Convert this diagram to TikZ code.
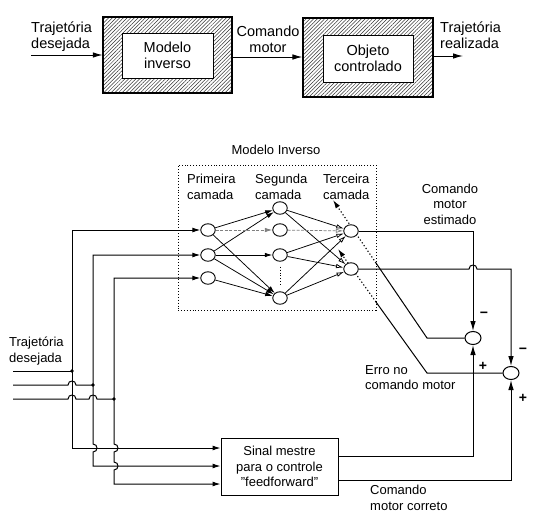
\documentclass[tikz,border=0pt]{standalone}
\usepackage{fontspec}
\setmainfont{Liberation Sans}
\usetikzlibrary{arrows.meta,shapes.geometric,patterns.meta,calc,backgrounds}
\begin{document}
\begin{tikzpicture}[x=1pt,y=-1pt,
  big/.style={font=\fontsize{14.5}{16}\selectfont, inner sep=0pt},
  sml/.style={font=\fontsize{13}{15.5}\selectfont, inner sep=0pt},
  wire/.style={line width=1pt},
  arr/.style={wire,-{Latex[length=10pt,width=5.5pt]}},
  sarr/.style={line width=0.75pt,-{Latex[length=7.5pt,width=4.5pt]}},
  darr/.style={wire,{Latex[length=8pt,width=5pt]}-{Latex[length=8pt,width=5pt]}},
  oarr/.style={line width=0.75pt,-{Latex[fill=white,length=7.5pt,width=4.5pt]}},
  faint/.style={gray,dash pattern=on 3pt off 1.5pt},
  neuron/.style={ellipse,draw,line width=0.9pt,fill=white,minimum width=14.5pt,minimum height=12.5pt,inner sep=0pt},
  sumnode/.style={ellipse,draw,line width=1pt,fill=white,minimum width=16pt,minimum height=13pt,inner sep=0pt},
  hatchbox/.style={draw,line width=1.1pt,pattern={Lines[angle=45,distance=2.6pt,line width=0.5pt]},pattern color=black!80,inner sep=0pt},
  innerbox/.style={draw,line width=0.6pt,fill=white,inner sep=0pt,align=center,font=\fontsize{14.5}{16}\selectfont},
  dotbox/.style={line width=0.9pt,dash pattern=on 0.9pt off 2pt},
  errdot/.style={line width=1.1pt,dash pattern=on 1.2pt off 2.2pt,-{Latex[length=8.5pt,width=5pt]}},
  jdot/.style={circle,fill,inner sep=0pt,minimum size=3.8pt},
  sign/.style={font=\fontsize{14}{16}\selectfont\bfseries, inner sep=0pt},
]
\useasboundingbox (0,0) rectangle (546,520);

% ---------- top block diagram ----------
\node[hatchbox,minimum width=129pt,minimum height=76pt] (mi) at (167.5,55) {};
\node[innerbox,minimum width=91pt,minimum height=45pt] (mit) at (167.5,55.5) {Modelo\\inverso};
\node[hatchbox,minimum width=130pt,minimum height=79pt] (oc) at (368,57.5) {};
\node[innerbox,minimum width=90pt,minimum height=47pt] (oct) at (368,58.5) {Objeto\\controlado};

\node[big,align=left,anchor=west] (td) at (31,37) {Trajetória\\desejada};
\node[big,align=center] (cm) at (268,39) {Comando\\motor};
\node[big,align=left,anchor=west] (tr) at (440,35) {Trajetória\\realizada};

\coordinate (a0) at (31,55);
\coordinate (a1) at (0,57);
\coordinate (a2) at (463,56);
\draw[arr] (a0) -- (a0 -| mi.west);
\draw[arr] (mi.east |- a1) -- (oc.west |- a1);
\draw[arr] (oc.east |- a2) -- (a2);

% ---------- network ----------
\node[sml] (mtitle) at (276,150) {Modelo Inverso};
\node[draw,dotbox,minimum width=198pt,minimum height=145pt] (nbox) at (277,237.5) {};
\node[sml,align=left,anchor=west] (l1) at (187,187) {Primeira\\camada};
\node[sml,align=left,anchor=west] (l2) at (255,187) {Segunda\\camada};
\node[sml,align=left,anchor=west] (l3) at (323,187) {Terceira\\camada};

\node[neuron] (n1a) at (208,230) {};
\node[neuron] (n1b) at (208,255) {};
\node[neuron] (n1c) at (208,278) {};
\node[neuron] (n2a) at (280,208) {};
\node[neuron] (n2b) at (280,230) {};
\node[neuron] (n2c) at (280,255) {};
\node[neuron] (n2d) at (280,298) {};
\node[neuron] (n3a) at (351,231) {};
\node[neuron] (n3b) at (351,269) {};

\begin{pgfonlayer}{background}
\draw[sarr] (n1a) -- (n2a);
\draw[sarr] (n1b) -- (n2a);
\draw[sarr,faint] (n1a) -- (n2b);
\draw[sarr] (n1a) -- (n2d);
\draw[sarr] (n1b) -- (n2c);
\draw[sarr] (n1b) -- (n2d);
\draw[sarr] (n1c) -- (n2d);
\draw[oarr] (n2a) -- (n3a);
\draw[oarr] (n2a) -- (n3b);
\draw[oarr,faint] (n2b) -- (n3a);
\draw[oarr] (n2c) -- (n3a);
\draw[oarr] (n2c) -- (n3b);
\draw[oarr] (n2d) -- (n3a);
\draw[oarr] (n2d) -- (n3b);
\end{pgfonlayer}
\draw[dotbox] ($(n2c.south)+(0,5)$) -- ($(n2d.north)+(0,-5)$);

% ---------- summing junctions ----------
\node[sumnode] (s1) at (473,338) {};
\node[sumnode] (s2) at (511,373) {};

\coordinate (o1) at (n3a.east -| s1);
\coordinate (o2) at (n3b.east -| s2);
\coordinate (h1) at (n3b.east -| s1);
\draw[arr] (n3a.east) -- (o1) -- (s1.north);
\draw[arr] (n3b.east) -- ($(h1)+(-4,0)$) .. controls +(0,-5.3) and +(0,-5.3) .. ($(h1)+(4,0)$) -- (o2) -- (s2.north);

\node[sign] (m1) at (484,315) {−};
\node[sign] (m2) at (523,351) {−};
\node[sign] (p1) at (483,366) {+};
\node[sign] (p2) at (523,398) {+};

% error lines
\coordinate (e1a) at (427,338);
\coordinate (e1b) at (376,263);
\coordinate (e1t) at (333,200);
\coordinate (e2a) at (427,373);
\coordinate (e2b) at (376,302);
\coordinate (e2t) at (338,249);
\draw[wire] (s1.west) -- (e1a) -- (e1b);
\draw[wire] (s2.west) -- (e2a) -- (e2b);
\begin{pgfonlayer}{background}
\draw[errdot] (e1b) -- (e1t);
\draw[errdot] (e2b) -- (e2t);
\end{pgfonlayer}

\node[sml,align=center] (cme) at (450,204) {Comando\\motor\\estimado};
\node[sml,align=left,anchor=north west] (erro) at (365,365) {Erro no\\comando motor};

% ---------- feedforward ----------
\node[draw,wire,sml,minimum width=117pt,minimum height=57pt,align=center] (ff) at (279.5,466.5) {Sinal mestre\\para o controle\\"feedforward"};
\coordinate (f1) at (0,456);
\coordinate (f2) at (0,480);
\draw[arr] (ff.east |- f1) -- (f1 -| s1) -- (s1.south);
\draw[arr] (ff.east |- f2) -- (f2 -| s2) -- (s2.south);
\node[sml,align=left,anchor=north west] (cmc) at (370,485) {Comando\\motor correto};

% ---------- left feed lines ----------
\node[sml,align=left,anchor=west] (td2) at (9,351) {Trajetória\\desejada};
\coordinate (v1t) at (72,230);
\coordinate (v1b) at (72,448);
\coordinate (v2t) at (93,255);
\coordinate (v2b) at (93,466);
\coordinate (v3t) at (114,278);
\coordinate (v3b) at (114,484);
\draw[darr] (n1a.west) -- (v1t) -- (v1b) -- (v1b -| ff.west);
\draw[darr] (n1b.west) -- (v2t) -- (93,444) .. controls (98.3,444) and (98.3,452) .. (93,452) -- (v2b) -- (v2b -| ff.west);
\draw[darr] (n1c.west) -- (v3t) -- (114,444) .. controls (119.3,444) and (119.3,452) .. (114,452) -- (114,462) .. controls (119.3,462) and (119.3,470) .. (114,470) -- (v3b) -- (v3b -| ff.west);

\coordinate (i1) at (13,371);
\coordinate (i2) at (13,385);
\coordinate (i3) at (13,399);
\node[jdot] (j1) at (i1 -| v1t) {};
\node[jdot] (j2) at (i2 -| v2t) {};
\node[jdot] (j3) at (i3 -| v3t) {};
\draw[wire] (i1) -- (j1.center);
\draw[wire] (i2) -- (68,385) .. controls (68,379.7) and (76,379.7) .. (76,385) -- (j2.center);
\draw[wire] (i3) -- (68,399) .. controls (68,393.7) and (76,393.7) .. (76,399) -- (89,399) .. controls (89,393.7) and (97,393.7) .. (97,399) -- (j3.center);
\end{tikzpicture}
\end{document}
